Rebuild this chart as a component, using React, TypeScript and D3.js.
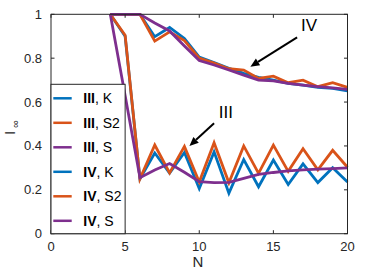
import * as d3 from "d3";

const nValues = [4, 5, 6, 7, 8, 9, 10, 11, 12, 13, 14, 15, 16, 17, 18, 19, 20];

const iiiK = [1, 0.9, 0.25, 0.368, 0.276, 0.37, 0.206, 0.373, 0.185, 0.338, 0.214, 0.336, 0.224, 0.318, 0.233, 0.301, 0.236];
const iiiS2 = [1, 0.905, 0.25, 0.404, 0.277, 0.398, 0.236, 0.415, 0.232, 0.4, 0.275, 0.404, 0.284, 0.387, 0.291, 0.38, 0.303];
const iiiS = [1, 0.63, 0.255, 0.29, 0.32, 0.28, 0.237, 0.233, 0.234, 0.252, 0.27, 0.279, 0.286, 0.291, 0.294, 0.297, 0.3];
const ivK = [1, 1, 1, 0.898, 0.94, 0.89, 0.805, 0.78, 0.754, 0.731, 0.713, 0.7, 0.685, 0.677, 0.667, 0.662, 0.651];
const ivS2 = [1, 1, 1, 0.878, 0.92, 0.88, 0.8, 0.778, 0.752, 0.746, 0.708, 0.718, 0.688, 0.7, 0.67, 0.688, 0.667];
const ivS = [1, 1, 1, 0.96, 0.924, 0.856, 0.789, 0.769, 0.746, 0.723, 0.7, 0.697, 0.685, 0.677, 0.67, 0.665, 0.658];

const series = [
  { group: "III", method: "K", values: iiiK },
  { group: "III", method: "S2", values: iiiS2 },
  { group: "III", method: "S", values: iiiS },
  { group: "IV", method: "K", values: ivK },
  { group: "IV", method: "S2", values: ivS2 },
  { group: "IV", method: "S", values: ivS },
];

const xTicks = [0, 5, 10, 15, 20];
const yTicks = [0, 0.2, 0.4, 0.6, 0.8, 1];

// annotation arrows: [label pos, tail, head] in data units
const arrows = [
  { label: "IV", text: [17.4, 0.95], tail: [16.6, 0.895], head: [13.45, 0.761] },
  { label: "III", text: [11.8, 0.555], tail: [11.0, 0.503], head: [9.34, 0.4] },
];

const colors: Record<string, string> = { K: "#0072BD", S2: "#D95319", S: "#7E2F8E" };
const axisColor = "#262626";
const font = "'Liberation Sans', Arial, sans-serif";

export default function App() {
  const width = 385;
  const height = 270;
  const margin = { top: 14.3, right: 37.5, bottom: 36.3, left: 51 };

  const x = d3.scaleLinear().domain([0, 20]).range([margin.left, width - margin.right]);
  const y = d3.scaleLinear().domain([0, 1]).range([height - margin.bottom, margin.top]);

  const line = d3
    .line<number>()
    .x((_, i) => x(nValues[i]))
    .y((d) => y(d));

  const x0 = x(0);
  const x1 = x(20);
  const y0 = y(0);
  const y1 = y(1);
  const tickLen = 3.5;

  const legendLeft = x0;
  const legendRight = x(5);
  const legendTop = 84.3;
  const legendRowH = 24.5;
  const legendFirst = 98.3;

  return (
    <div style={{ position: "absolute", left: 0, top: 0 }}>
      <svg width={width} height={height} style={{ display: "block", background: "#fff" }} fontFamily={font}>
        {series.map((s, i) => (
          <path
            key={i}
            d={line(s.values) ?? ""}
            fill="none"
            stroke={colors[s.method]}
            strokeWidth={2.8}
            strokeLinejoin="miter"
          />
        ))}

        {/* axes box */}
        <rect x={x0} y={y1} width={x1 - x0} height={y0 - y1} fill="none" stroke={axisColor} strokeWidth={1} />
        {xTicks.map((t) => (
          <g key={"x" + t}>
            <line x1={x(t)} x2={x(t)} y1={y0} y2={y0 - tickLen} stroke={axisColor} />
            <line x1={x(t)} x2={x(t)} y1={y1} y2={y1 + tickLen} stroke={axisColor} />
            <text x={x(t)} y={251} textAnchor="middle" fontSize={13} fill={axisColor}>
              {t}
            </text>
          </g>
        ))}
        {yTicks.map((t) => (
          <g key={"y" + t}>
            <line x1={x0} x2={x0 + tickLen} y1={y(t)} y2={y(t)} stroke={axisColor} />
            <line x1={x1} x2={x1 - tickLen} y1={y(t)} y2={y(t)} stroke={axisColor} />
            <text x={42} y={y(t)} dy="0.35em" textAnchor="end" fontSize={13} fill={axisColor}>
              {d3.format("~g")(t)}
            </text>
          </g>
        ))}

        <text x={198} y={266.5} textAnchor="middle" fontSize={15} fill={axisColor}>
          N
        </text>
        <text transform="translate(15,135) rotate(-90)" fontSize={15} fill={axisColor}>
          I
          <tspan dx={3} dy={4} fontSize={11}>
            ∞
          </tspan>
        </text>

        {/* annotations */}
        {arrows.map((a) => {
          const tx = x(a.tail[0]);
          const ty = y(a.tail[1]);
          const hx = x(a.head[0]);
          const hy = y(a.head[1]);
          const ang = Math.atan2(hy - ty, hx - tx);
          const len = 9;
          const wid = 4;
          const bx = hx - len * Math.cos(ang);
          const by = hy - len * Math.sin(ang);
          const px = -Math.sin(ang) * wid;
          const py = Math.cos(ang) * wid;
          return (
            <g key={a.label}>
              <line x1={tx} y1={ty} x2={bx} y2={by} stroke="#000" strokeWidth={2} />
              <polygon points={`${hx},${hy} ${bx + px},${by + py} ${bx - px},${by - py}`} fill="#000" />
              <text x={x(a.text[0])} y={y(a.text[1])} dy="0.35em" textAnchor="middle" fontSize={17} fill="#000">
                {a.label}
              </text>
            </g>
          );
        })}

        {/* legend */}
        <rect
          x={legendLeft}
          y={legendTop}
          width={legendRight - legendLeft}
          height={y0 - legendTop}
          fill="#fff"
          stroke={axisColor}
          strokeWidth={1}
        />
        {series.map((s, i) => {
          const ly = legendFirst + i * legendRowH;
          return (
            <g key={"l" + i}>
              <line x1={53.3} x2={71.7} y1={ly} y2={ly} stroke={colors[s.method]} strokeWidth={2.5} />
              <text x={83.3} y={ly} dy="0.36em" fontSize={14} fill="#000">
                <tspan fontWeight="bold">{s.group}</tspan>, {s.method}
              </text>
            </g>
          );
        })}
      </svg>
    </div>
  );
}
